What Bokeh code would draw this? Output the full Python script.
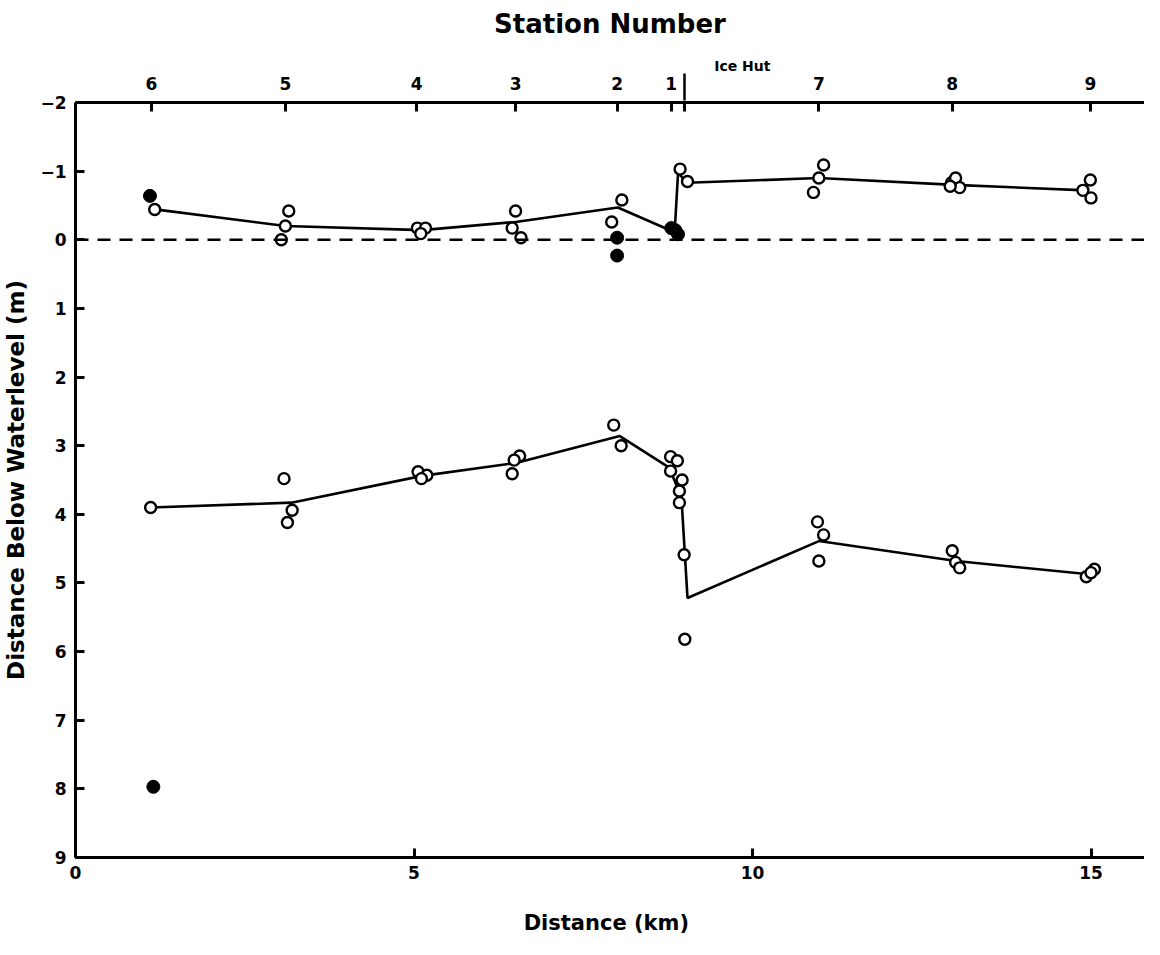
from bokeh.plotting import figure
from bokeh.models import Range1d, FixedTicker, LinearAxis, Span
from bokeh.embed import file_html
from bokeh.resources import INLINE

# ---------------- data ----------------
# Upper profile (ice surface / freeboard), distance (km) vs depth below waterlevel (m)
top_line_x = [1.12, 3.10, 5.12, 6.50, 8.01, 8.85, 8.90, 9.04, 10.98, 12.98, 14.93]
top_line_y = [-0.45, -0.20, -0.14, -0.26, -0.47, -0.11, -0.97, -0.83, -0.90, -0.80, -0.72]

top_open_x = [1.17, 3.15, 3.10, 3.04, 5.05, 5.17, 5.10, 6.50, 6.45, 6.58, 8.07, 7.92,
              8.93, 9.04, 11.05, 10.98, 10.90, 12.94, 13.00, 13.06, 12.92, 14.99, 14.88, 15.00]
top_open_y = [-0.44, -0.42, -0.20, 0.00, -0.17, -0.17, -0.09, -0.42, -0.17, -0.03, -0.58, -0.26,
              -1.03, -0.85, -1.09, -0.90, -0.69, -0.83, -0.90, -0.76, -0.78, -0.87, -0.72, -0.61]

filled_x = [1.10, 8.00, 8.00, 8.80, 8.86, 8.90, 1.15]
filled_y = [-0.64, -0.03, 0.23, -0.17, -0.14, -0.08, 7.97]

# Lower profile (ice bottom)
bot_line_x = [1.11, 3.19, 5.12, 6.52, 8.04, 8.77, 8.95, 9.04, 10.98, 13.01, 14.93]
bot_line_y = [3.90, 3.83, 3.44, 3.25, 2.86, 3.32, 3.75, 5.22, 4.39, 4.68, 4.87]

bot_open_x = [1.11, 3.08, 3.20, 3.13, 5.06, 5.19, 5.11, 6.56, 6.48, 6.45, 7.95, 8.06,
              8.79, 8.89, 8.79, 8.96, 8.92, 8.92, 8.99, 9.00, 10.96, 11.05, 10.98,
              12.95, 13.00, 13.06, 15.05, 14.93, 15.00]
bot_open_y = [3.90, 3.48, 3.94, 4.12, 3.38, 3.43, 3.48, 3.15, 3.21, 3.41, 2.70, 3.00,
              3.16, 3.22, 3.37, 3.50, 3.66, 3.83, 4.59, 5.82, 4.11, 4.30, 4.68,
              4.53, 4.70, 4.78, 4.80, 4.91, 4.85]

station_pos = [1.12, 3.10, 5.04, 6.50, 8.00, 8.80, 10.98, 12.95, 14.99]
station_lbl = ["6", "5", "4", "3", "2", "1", "7", "8", "9"]
ice_hut_x = 8.99          # ice hut position on the station axis
ice_hut_label_x = 9.85    # where its caption sits
ice_hut_lbl = "Ice Hut"

x_ticks = [0, 5, 10, 15]
y_ticks = [-2, -1, 0, 1, 2, 3, 4, 5, 6, 7, 8, 9]
water_level = 0.0

FONT = "DejaVu Sans"

p = figure(width=1144, height=939, output_backend="svg", toolbar_location=None,
           x_range=Range1d(0, 15.79), y_range=Range1d(9, -2),
           min_border_left=64, min_border_right=0, min_border_top=102, min_border_bottom=82,
           x_axis_location=None, y_axis_location=None)
p.outline_line_color = None
p.xgrid.visible = False
p.ygrid.visible = False
p.background_fill_color = "white"
p.border_fill_color = "white"


def style_axis(ax, size="17px"):
    ax.axis_line_width = 3
    ax.axis_line_color = "black"
    ax.major_tick_in = 9
    ax.major_tick_out = 0
    ax.major_tick_line_width = 3
    ax.minor_tick_line_color = None
    ax.major_label_text_font = FONT
    ax.major_label_text_font_style = "bold"
    ax.major_label_text_font_size = size
    ax.major_label_text_color = "black"
    ax.axis_label_text_font = FONT
    ax.axis_label_text_font_style = "bold"
    ax.axis_label_text_font_size = "23px"
    ax.axis_label_text_color = "black"


left = LinearAxis(ticker=FixedTicker(ticks=y_ticks), axis_label="Distance Below Waterlevel (m)")
style_axis(left)
left.major_label_standoff = 9
left.axis_label_standoff = 8
p.add_layout(left, "left")

bottom = LinearAxis(ticker=FixedTicker(ticks=x_ticks), axis_label="Distance  (km)")
style_axis(bottom)
bottom.axis_label_text_font_size = "21px"
bottom.major_label_standoff = 8
bottom.axis_label_standoff = 29
p.add_layout(bottom, "below")

# station axis along the top edge (with an extra tick for the ice hut)
top_ticks = station_pos + [ice_hut_x]
top_lbls = station_lbl + [""]
top = LinearAxis(ticker=FixedTicker(ticks=top_ticks),
                 major_label_overrides={k: v for k, v in zip(top_ticks, top_lbls)})
style_axis(top)
top.major_label_standoff = 13
p.add_layout(top, "above")

# pointer shaft from the caption row down to the ice hut tick
pointer = LinearAxis(ticker=FixedTicker(ticks=[ice_hut_x]),
                     major_label_overrides={ice_hut_x: ""})
style_axis(pointer, size="1px")
pointer.axis_line_color = None
pointer.major_tick_in = 27
pointer.major_tick_out = 0
pointer.major_tick_line_width = 2.5
pointer.major_label_standoff = 0
p.add_layout(pointer, "above")

# caption row above the station numbers: "Ice Hut" and the axis title
cap = LinearAxis(ticker=FixedTicker(ticks=[ice_hut_label_x]),
                 major_label_overrides={ice_hut_label_x: ice_hut_lbl},
                 axis_label="Station Number")
style_axis(cap, size="14px")
cap.axis_line_color = None
cap.major_tick_line_color = None
cap.major_tick_in = 0
cap.major_tick_out = 0
cap.major_label_standoff = 0
cap.axis_label_text_font_size = "26px"
cap.axis_label_standoff = 16
p.add_layout(cap, "above")

p.add_layout(Span(location=water_level, dimension="width", line_color="black",
                  line_width=2.6, line_dash="13 9"))

p.line(top_line_x, top_line_y, line_color="black", line_width=2.6)
p.line(bot_line_x, bot_line_y, line_color="black", line_width=2.6)

p.scatter(top_open_x, top_open_y, size=11, fill_color="white", line_color="black", line_width=2.4)
p.scatter(bot_open_x, bot_open_y, size=11, fill_color="white", line_color="black", line_width=2.4)
p.scatter(filled_x, filled_y, size=13, fill_color="black", line_color="black")

open("out.html", "w").write(file_html(p, INLINE))
